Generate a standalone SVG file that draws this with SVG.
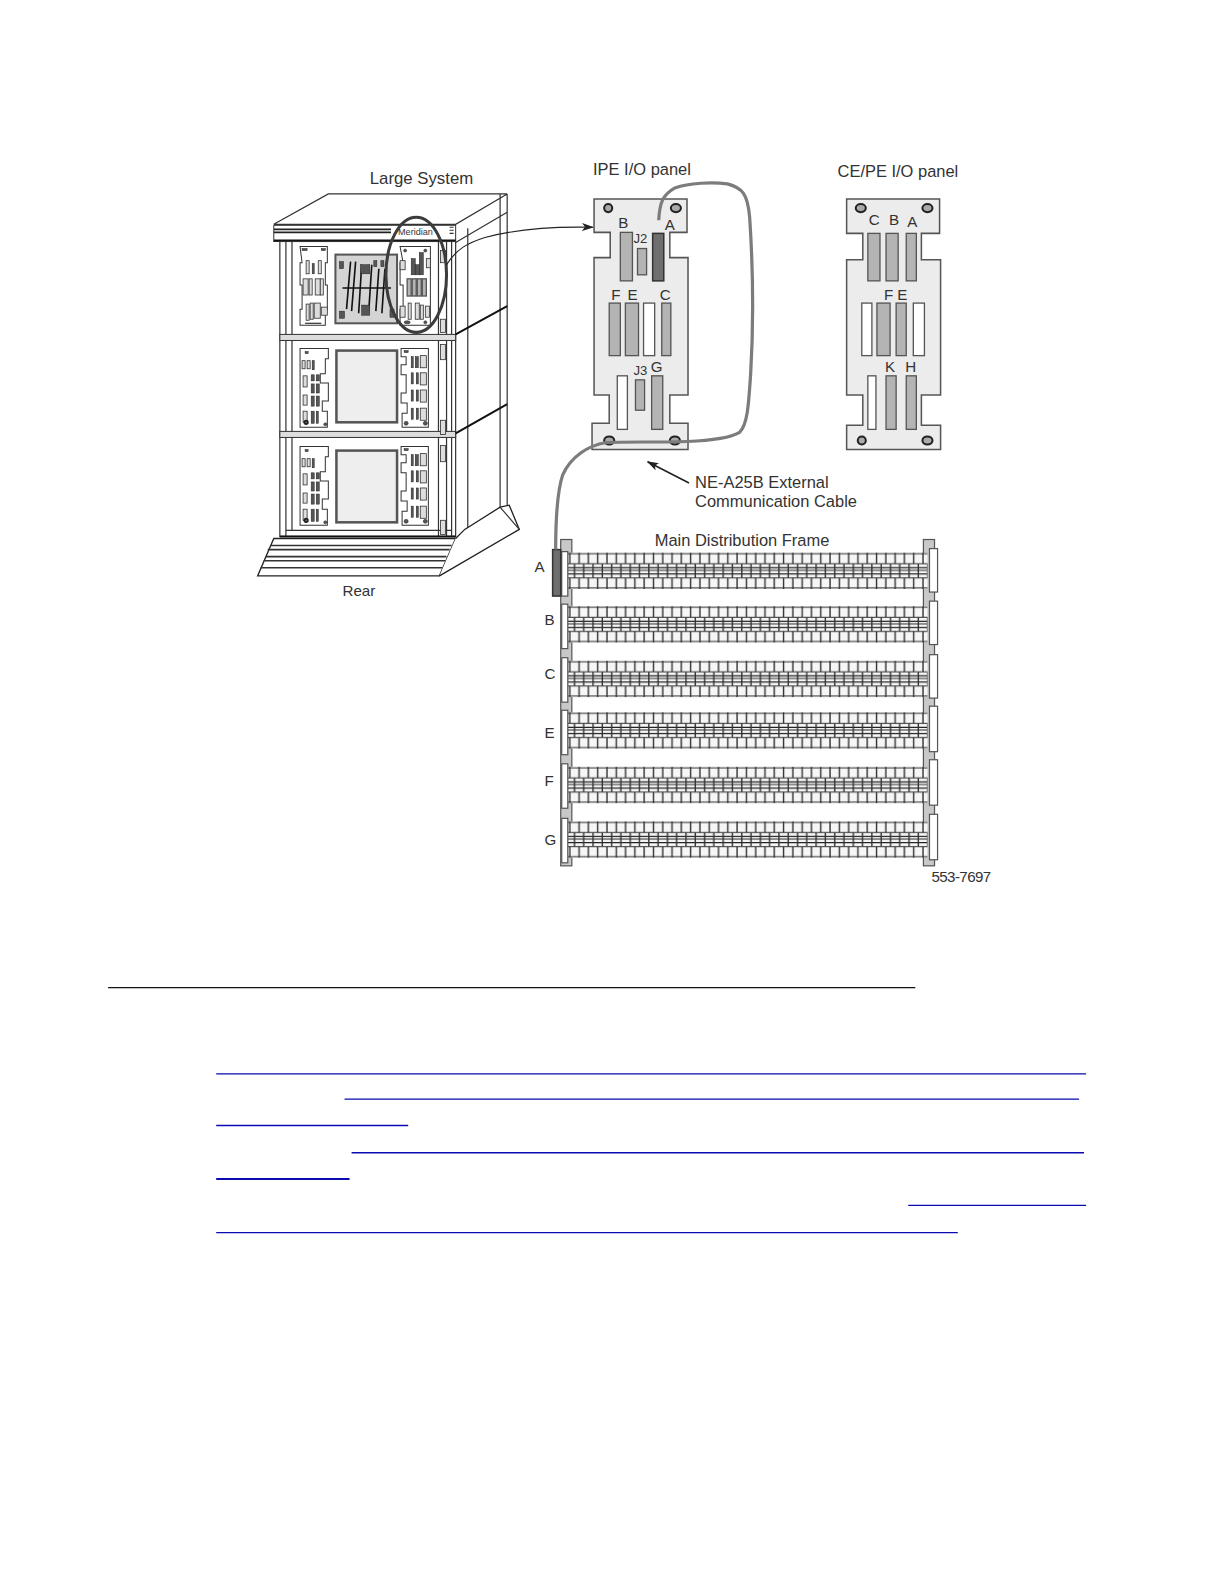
<svg xmlns="http://www.w3.org/2000/svg" width="1224" height="1584" viewBox="0 0 1224 1584">
<style>
text{font-family:"Liberation Sans",Arial,sans-serif;fill:#333;font-size:16.3px}
.lbl{font-size:15px}
.ln{fill:none;stroke:#333;stroke-width:1.2}
.hv{fill:none;stroke:#111;stroke-width:2}
.pl{fill:#ececec;stroke:#555;stroke-width:1.5}
.g{fill:#b4b4b4;stroke:#555;stroke-width:1.3}
.w{fill:#fff;stroke:#555;stroke-width:1.3}
.d{fill:#6e6e6e;stroke:#333;stroke-width:1.5}
.hole{fill:#aaa;stroke:#222;stroke-width:2}
.cp{fill:#fff;stroke:#333;stroke-width:1}
.s{fill:#555;stroke:#222;stroke-width:.5}
.sw{fill:#ddd;stroke:#333;stroke-width:.8}
.link{stroke:#0a0ab0;stroke-width:1.3}
.rail{fill:#c8c8c8;stroke:#555;stroke-width:1.2}
.pad{fill:#fff;stroke:#555;stroke-width:1.2}
</style>
<defs>
<marker id="arr" markerWidth="12" markerHeight="8" refX="11" refY="4" orient="auto" markerUnits="userSpaceOnUse"><path d="M0 0L12 4L0 8L3 4Z" fill="#222"/></marker>
<pattern id="brick" width="18.4" height="36" patternUnits="userSpaceOnUse">
<rect width="18.4" height="36" fill="#f6f6f6"/>
<path d="M0 1H18.4M0 11H18.4M0 25H18.4M0 35H18.4" stroke="#555" stroke-width="1.2"/>
<path d="M0 15H18.4M0 17.5H18.4M0 21H18.4" stroke="#222" stroke-width="1.1"/>
<path d="M2 0V11M11.2 0V11M6.6 11V25M15.8 11V25M2 25V36M11.2 25V36" stroke="#333" stroke-width="1.4"/>
</pattern>
<rect id="mdf-row" width="356" height="36" fill="url(#brick)"/>
<g id="pnl-l">
<path class="cp" d="M0 0H28V10H25V25H20V34H28V52H22V62H27V78H0Z"/>
<rect class="s" x="5" y="3" width="3" height="2"/>
<rect class="sw" x="2" y="12" width="3" height="8"/><rect class="sw" x="7" y="12" width="3" height="8"/><rect class="s" x="12" y="12" width="2" height="9"/>
<rect class="sw" x="3" y="27" width="4" height="11"/><rect class="s" x="11" y="26" width="3" height="6"/><rect class="s" x="16" y="26" width="3" height="6"/>
<rect class="s" x="11" y="35" width="3" height="9"/><rect class="s" x="16" y="35" width="3" height="9"/>
<rect class="sw" x="3" y="46" width="4" height="10"/><rect class="s" x="11" y="47" width="3" height="10"/><rect class="s" x="16" y="47" width="3" height="10"/>
<rect class="sw" x="3" y="62" width="4" height="11"/><rect class="s" x="11" y="62" width="3" height="12"/><rect class="s" x="16" y="62" width="2" height="12"/>
<circle class="hole" cx="6" cy="73" r="1.6" fill="#fff"/><circle class="s" cx="25" cy="75" r="1.5"/>
</g>
<g id="pnl-r">
<path class="cp" d="M0 0H27V78H1V64H6V54H0V44H5V26H0V16H5V8H0Z"/>
<rect class="s" x="3" y="2" width="4" height="2"/>
<rect class="s" x="10" y="8" width="2" height="11"/><rect class="s" x="14" y="8" width="3" height="11"/><rect class="sw" x="19" y="7" width="6" height="12"/>
<rect class="s" x="10" y="24" width="2" height="11"/><rect class="s" x="15" y="24" width="2" height="11"/><rect class="sw" x="19" y="24" width="6" height="12"/>
<rect class="s" x="10" y="41" width="2" height="11"/><rect class="s" x="15" y="41" width="2" height="11"/><rect class="sw" x="19" y="41" width="6" height="12"/>
<rect class="s" x="10" y="59" width="2" height="11"/><rect class="s" x="15" y="59" width="2" height="11"/><rect class="sw" x="19" y="59" width="6" height="12"/>
<circle class="s" cx="5" cy="74" r="2"/><circle class="s" cx="24" cy="74" r="2"/>
</g>
<g id="tier1-l">
<path class="cp" d="M0 0H27V16H25V38H27V62H25V78H0V62H2V38H0V16H2Z"/>
<rect class="s" x="2" y="2" width="5" height="2"/><rect class="s" x="21" y="2" width="4" height="2"/>
<rect class="sw" x="6" y="14" width="3" height="13"/><rect class="s" x="12" y="17" width="2" height="10"/><rect class="sw" x="18" y="14" width="3" height="13"/>
<rect class="sw" x="3" y="32" width="5" height="16"/><rect class="sw" x="9" y="32" width="3" height="16"/><rect class="sw" x="15" y="32" width="5" height="16"/><rect class="sw" x="20" y="32" width="3" height="16"/>
<rect class="sw" x="6" y="57" width="3" height="16"/><rect class="sw" x="10" y="56" width="3" height="16"/><rect class="sw" x="14" y="56" width="6" height="15"/><rect class="sw" x="21" y="60" width="6" height="8"/>
<path class="ln" d="M5 76H21"/>
</g>
<g id="tier1-r">
<path class="cp" d="M0 0H30V78H0V62H3V38H0V16H3Z"/>
<circle class="s" cx="5" cy="4" r="1.5"/><circle class="s" cx="25" cy="4" r="1.5"/>
<rect class="sw" x="0" y="14" width="5" height="9"/><rect class="sw" x="26" y="12" width="4" height="9"/>
<rect class="s" x="11" y="12" width="4" height="16"/><rect class="s" x="15" y="18" width="4" height="10"/><rect class="s" x="19" y="6" width="4" height="22"/>
<rect class="g" x="7" y="32" width="4" height="17"/><rect class="g" x="12" y="32" width="4" height="17"/><rect class="g" x="17" y="32" width="4" height="17"/><rect class="g" x="22" y="32" width="4" height="17"/>
<rect class="sw" x="0" y="59" width="5" height="11"/><rect class="sw" x="8" y="56" width="3" height="16"/><rect class="sw" x="15" y="56" width="4" height="16"/><rect class="sw" x="20" y="58" width="3" height="14"/><rect class="sw" x="25" y="59" width="4" height="11"/>
<ellipse class="s" cx="7" cy="75" rx="3" ry="1.5"/><circle class="s" cx="25" cy="75" r="1.5"/>
</g>
<g id="win"><rect x="0" y="0" width="60" height="71" fill="#eee" stroke="#555" stroke-width="2.5"/></g>
</defs>
<g transform="scale(1.0103)">

<g id="cabinet">
<path d="M271 222L325 192H502V400L451 429V222Z" fill="#fff" stroke="none"/>
<path class="ln" d="M271 222L325 192H502M271 222H451L502 192M495 192V502M502 192V500M463 226V524M451 240L502 210"/>
<rect x="271" y="223" width="180" height="16" fill="#fff" stroke="#333" stroke-width="1"/>
<path d="M271 227H387M271 230H387" stroke="#222" stroke-width="1.6"/>
<path d="M271 238H451" stroke="#111" stroke-width="2"/>
<rect x="277" y="239" width="174" height="292" fill="#fff" stroke="#333" stroke-width="1.2"/>
<path d="M283 239V531M289 239V331M434 239V531M442 239V531M447 239V531" class="ln"/>
<rect x="277" y="331" width="174" height="6" fill="#ddd" stroke="#333"/>
<rect x="277" y="427" width="174" height="6" fill="#ddd" stroke="#333"/>
<path d="M289 337V427M289 433V525M283 525H447" class="ln"/>
<path class="hv" d="M451 331L502 303M451 429L502 400"/>
<path d="M277 531H451" stroke="#111" stroke-width="2"/>
<path d="M271 533H451L435 570H255Z" fill="#fff" stroke="#222" stroke-width="1.3"/>
<path d="M268 540H447M265 544H445M263 551H442M261 555H441M258 562H438" stroke="#333" stroke-width="1.6"/>
<path d="M451 533L460 524L495 502L504 500L514 524L435 570" fill="#fff" stroke="#222" stroke-width="1.3"/>
<path d="M495 502L514 524" class="ln"/>
<rect class="sw" x="436" y="248" width="5" height="12"/><rect class="sw" x="436" y="316" width="5" height="13"/>
<rect class="sw" x="436" y="341" width="5" height="15"/><rect class="sw" x="436" y="416" width="5" height="14"/>
<rect class="sw" x="436" y="441" width="5" height="16"/><rect class="sw" x="436" y="515" width="5" height="14"/>
<use href="#tier1-l" x="297" y="244"/>
<g id="tier1-center">
<rect x="332" y="252" width="61" height="68" fill="#d4d4d4" stroke="#555" stroke-width="2"/>
<path d="M347 259L343 306M352 259L348 308M358 262L355 310M368 262L365 308M375 266L372 308M381 266L378 310" stroke="#111" stroke-width="1.6"/>
<path d="M339 285H387" stroke="#111" stroke-width="1.6"/>
<rect class="s" x="336" y="259" width="4" height="7"/><rect class="s" x="357" y="262" width="9" height="9"/><rect class="s" x="370" y="258" width="3" height="6"/><rect class="s" x="377" y="258" width="3" height="6"/>
<rect class="s" x="336" y="308" width="5" height="7"/><rect class="s" x="358" y="302" width="8" height="10"/><rect class="s" x="386" y="306" width="4" height="8"/>
</g>
<use href="#tier1-r" x="396" y="244"/>
<use href="#pnl-l" x="297" y="345"/><use href="#win" x="333" y="347"/><use href="#pnl-r" x="397" y="345"/>
<use href="#pnl-l" x="297" y="442"/><use href="#win" x="333" y="446"/><use href="#pnl-r" x="397" y="442"/>
<text x="394" y="233" style="font-size:9px">Meridian</text>
<path d="M445 225H449M445 228H449M445 231H449" stroke="#333"/>
<text x="366" y="182" style="font-size:16.6px">Large System</text>
<text x="339" y="590" style="font-size:15px">Rear</text>
<ellipse id="focus" cx="412" cy="272" rx="30" ry="57" fill="none" stroke="#3c3c3c" stroke-width="3"/>
</g>

<g id="ipe-panel">
<path class="pl" d="M588 197H680V230H663V255H681V391H663V419H681V445H586V419H603V391H588V255H604V230H588Z"/>
<rect class="g" x="614" y="230" width="12" height="48"/><rect class="g" x="631" y="246" width="9" height="26"/>
<rect class="d" x="646" y="231" width="11" height="47"/>
<rect class="g" x="603" y="300" width="11" height="52"/><rect class="g" x="619" y="300" width="13" height="52"/><rect class="w" x="637" y="300" width="11" height="52"/><rect class="g" x="655" y="300" width="9" height="52"/>
<rect class="w" x="611" y="372" width="10" height="53"/><rect class="g" x="629" y="376" width="9" height="30"/><rect class="g" x="645" y="372" width="11" height="53"/>
<ellipse class="hole" cx="602" cy="206" rx="4" ry="4"/><ellipse class="hole" cx="669" cy="206" rx="5" ry="4"/>
<ellipse class="hole" cx="603" cy="436" rx="5" ry="4"/><ellipse class="hole" cx="668" cy="436" rx="5" ry="4"/>
<text class="lbl" x="612" y="226">B</text><text class="lbl" x="658" y="228">A</text>
<text x="627" y="241" style="font-size:13px">J2</text>
<text class="lbl" x="605" y="297">F</text><text class="lbl" x="621" y="297">E</text><text class="lbl" x="653" y="297">C</text>
<text x="627" y="371" style="font-size:13px">J3</text><text class="lbl" x="644" y="368">G</text>
<text x="587" y="173">IPE I/O panel</text>
</g>

<g id="cepe-panel">
<path class="pl" d="M838 197H930V231H912V257H931V391H912V421H931V445H838V421H854V391H838V257H854V231H838Z"/>
<rect class="g" x="859" y="231" width="12" height="47"/><rect class="g" x="877" y="231" width="12" height="47"/><rect class="g" x="897" y="231" width="10" height="47"/>
<rect class="w" x="853" y="300" width="10" height="52"/><rect class="g" x="868" y="300" width="13" height="52"/><rect class="g" x="887" y="300" width="10" height="52"/><rect class="w" x="904" y="300" width="11" height="52"/>
<rect class="w" x="859" y="372" width="8" height="53"/><rect class="g" x="877" y="372" width="10" height="53"/><rect class="g" x="897" y="372" width="10" height="53"/>
<ellipse class="hole" cx="852" cy="206" rx="5" ry="4"/><ellipse class="hole" cx="918" cy="206" rx="5" ry="4"/>
<ellipse class="hole" cx="853" cy="436" rx="4" ry="4"/><ellipse class="hole" cx="918" cy="436" rx="5" ry="4"/>
<text class="lbl" x="860" y="223">C</text><text class="lbl" x="880" y="223">B</text><text class="lbl" x="898" y="225">A</text>
<text class="lbl" x="875" y="297">F</text><text class="lbl" x="888" y="297">E</text>
<text class="lbl" x="876" y="368">K</text><text class="lbl" x="896" y="368">H</text>
<text x="829" y="175">CE/PE I/O panel</text>
</g>

<g id="mdf">
<rect class="rail" x="555" y="534" width="11" height="323"/>
<rect class="rail" x="914" y="534" width="11" height="323"/>
<g id="mdf-rows">
<use href="#mdf-row" x="562" y="547"/>
<use href="#mdf-row" x="562" y="600"/>
<use href="#mdf-row" x="562" y="654"/>
<use href="#mdf-row" x="562" y="705"/>
<use href="#mdf-row" x="562" y="759"/>
<use href="#mdf-row" x="562" y="813"/>
</g>
<g id="mdf-pads">
<rect class="pad" x="556" y="546" width="6" height="44"/><rect class="pad" x="556" y="598" width="6" height="44"/><rect class="pad" x="556" y="651" width="6" height="44"/><rect class="pad" x="556" y="703" width="6" height="44"/><rect class="pad" x="556" y="756" width="6" height="44"/><rect class="pad" x="556" y="810" width="6" height="44"/>
<rect class="pad" x="920" y="543" width="8" height="43"/><rect class="pad" x="920" y="595" width="8" height="43"/><rect class="pad" x="920" y="648" width="8" height="43"/><rect class="pad" x="920" y="699" width="8" height="45"/><rect class="pad" x="920" y="752" width="8" height="45"/><rect class="pad" x="920" y="806" width="8" height="45"/>
</g>
<rect class="d" x="547" y="544" width="8" height="46"/>
<text class="lbl" x="529" y="566">A</text><text class="lbl" x="539" y="619">B</text><text class="lbl" x="539" y="672">C</text><text class="lbl" x="539" y="730">E</text><text class="lbl" x="539" y="778">F</text><text class="lbl" x="539" y="836">G</text>
<text x="648" y="540">Main Distribution Frame</text>
</g>

<g id="connectors">
<path id="cable" d="M652 218C653 200 656 193 668 186C682 181 705 180 720 182C735 186 740 192 742 215C745 260 746 320 743 370C741 400 740 420 732 428C722 434 705 436 680 437C650 438 620 437 600 438C582 441 565 452 557 470C552 485 550 510 550 544" fill="none" stroke="#7c7c7c" stroke-width="3.2"/>
<path d="M442 262C452 246 464 240 480 235C515 226 550 224 587 225" fill="none" stroke="#222" stroke-width="1.1" marker-end="url(#arr)"/>
<path d="M682 478L641 457" fill="none" stroke="#222" stroke-width="1.6" marker-end="url(#arr)"/>
</g>

<g id="annotations">
<text x="688" y="483">NE-A25B External</text>
<text x="688" y="502">Communication Cable</text>
<text x="922" y="873" style="letter-spacing:-.6px;font-size:15px">553-7697</text>
</g>

<g id="rules">
<path d="M107 977.5H906" stroke="#111" stroke-width="1.2"/>
<path class="link" d="M214 1063H1075M341 1088H1068M214 1114H404M348 1141H1073M899 1193H1075M214 1220H948"/>
<path class="link" style="stroke-width:2" d="M214 1167H346"/>
</g>
</g>
</svg>
